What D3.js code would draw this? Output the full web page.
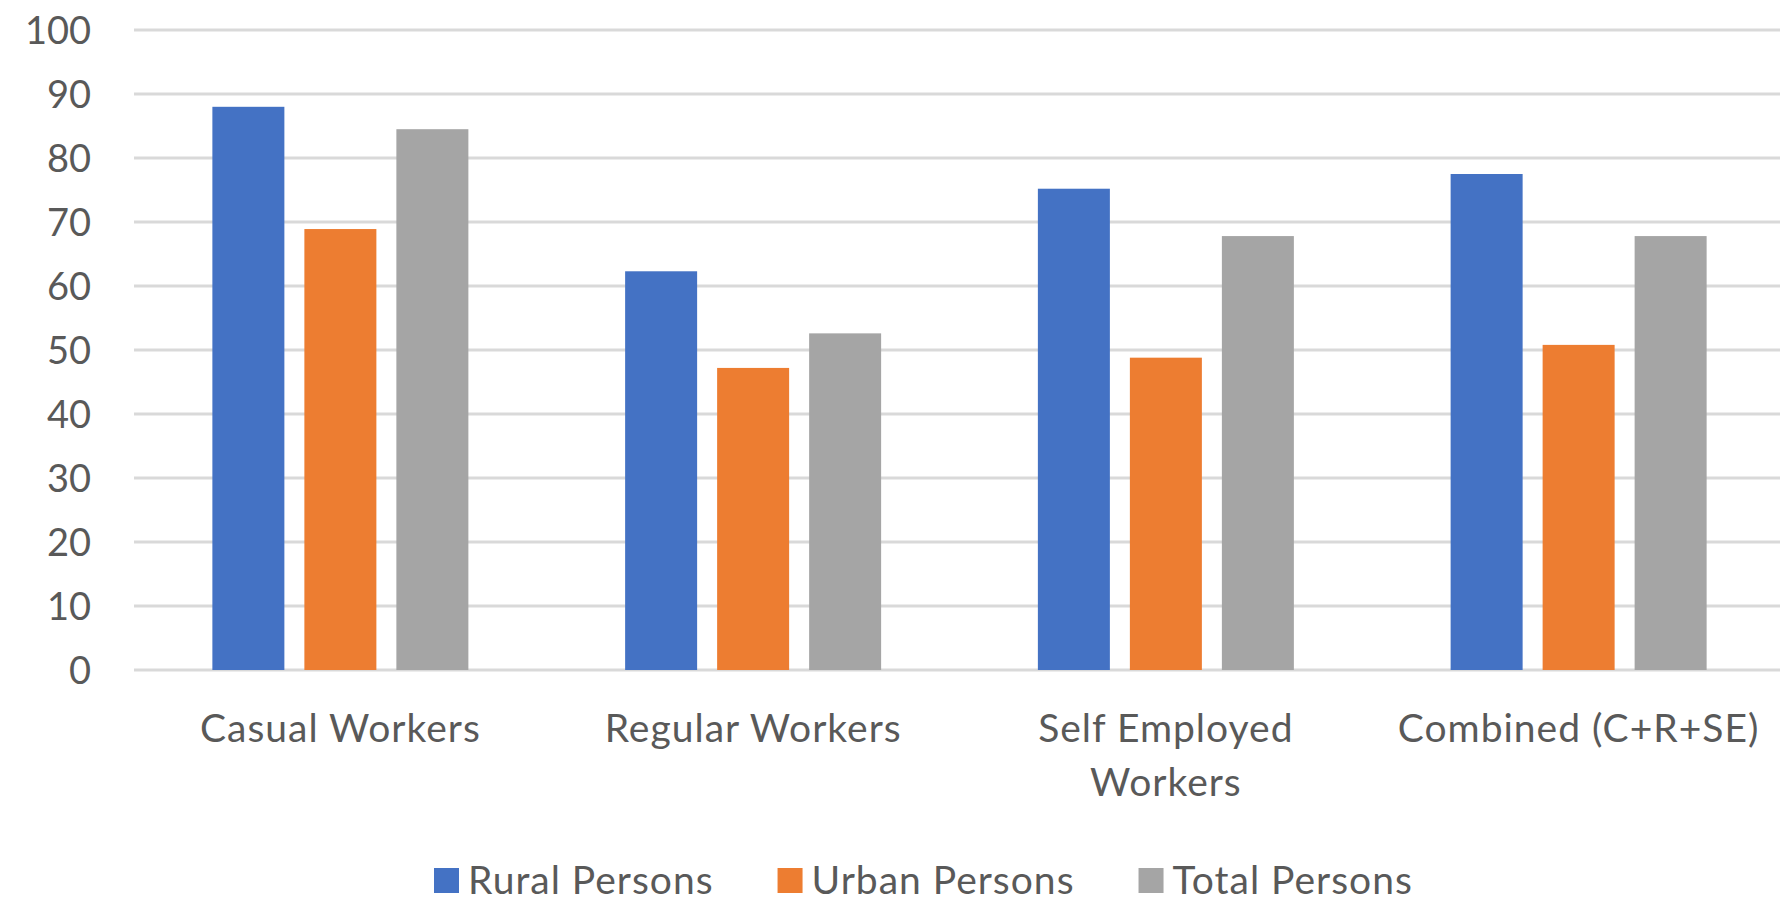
<!DOCTYPE html>
<html>
<head>
<meta charset="utf-8">
<script src="https://cdn.jsdelivr.net/npm/d3@7"></script>
<style>
  html, body { margin: 0; padding: 0; background: #fff; }
  svg { display: block; font-family: Lato, "Open Sans", sans-serif; }
</style>
</head>
<body>
<svg id="chart"></svg>
<script>
// categories along the x axis
const categories = ["Casual Workers", "Regular Workers", "Self Employed Workers", "Combined (C+R+SE)"];
// series names (legend order)
const seriesNames = ["Rural Persons", "Urban Persons", "Total Persons"];
// series values, one per category
const rural = [88.0, 62.3, 75.2, 77.5];
const urban = [68.9, 47.2, 48.8, 50.8];
const total = [84.5, 52.6, 67.8, 67.8];
// y tick labels
const yTicks = [0, 10, 20, 30, 40, 50, 60, 70, 80, 90, 100];
// series colours
const colors = ["#4472c4", "#ed7d31", "#a5a5a5"];

const width = 1780;
const height = 903;
const textColor = "#595959";

const svg = d3.select("#chart")
    .attr("width", width)
    .attr("height", height);

// rows for the grouped bars
const rows = categories.map((c, i) => ({
    category: c,
    values: [rural[i], urban[i], total[i]]
}));

// outer band scale, one band per category
const x0 = d3.scaleBand()
    .domain(categories)
    .range([134, 1785])
    .paddingInner(0)
    .paddingOuter(0);

// inner band scale for the three bars of a group
const groupWidth = 256;
const x1 = d3.scaleBand()
    .domain(d3.range(seriesNames.length))
    .range([-groupWidth / 2, groupWidth / 2])
    .paddingInner(20 / 92)
    .paddingOuter(0);

const y = d3.scaleLinear()
    .domain([0, 100])
    .range([670, 30]);

// gridlines
svg.append("g")
    .selectAll("line")
    .data(yTicks)
    .enter()
    .append("line")
    .attr("x1", 134)
    .attr("x2", width)
    .attr("y1", d => y(d))
    .attr("y2", d => y(d))
    .attr("stroke", "#d9d9d9")
    .attr("stroke-width", 3);

// y axis labels
svg.append("g")
    .selectAll("text")
    .data(yTicks)
    .enter()
    .append("text")
    .attr("x", 91)
    .attr("y", d => y(d) + 13.5)
    .attr("text-anchor", "end")
    .attr("fill", textColor)
    .style("font-size", "38px")
    .text(d => d);

// bars
const groups = svg.append("g")
    .selectAll("g")
    .data(rows)
    .enter()
    .append("g")
    .attr("transform", d => "translate(" + (x0(d.category) + x0.bandwidth() / 2) + ",0)");

groups.selectAll("rect")
    .data(d => d.values)
    .enter()
    .append("rect")
    .attr("x", (d, i) => x1(i))
    .attr("width", x1.bandwidth())
    .attr("y", d => y(d))
    .attr("height", d => y(0) - y(d))
    .attr("fill", (d, i) => colors[i]);

// x axis category labels, wrapped if too wide for the band
const maxLabelWidth = 380;
const lineHeight = 53.5;
const catLabels = svg.append("g")
    .selectAll("text")
    .data(categories)
    .enter()
    .append("text")
    .attr("text-anchor", "middle")
    .attr("fill", textColor)
    .style("font-size", "39px")
    .style("letter-spacing", "1px")
    .attr("transform", d => "translate(" + (x0(d) + x0.bandwidth() / 2) + ",742)");

catLabels.each(function(d) {
    let el = d3.select(this);
    let words = d.split(" ");
    let line = [];
    let lineNo = 0;
    let tspan = el.append("tspan").attr("x", 0).attr("y", 0);
    words.forEach(w => {
        line.push(w);
        tspan.text(line.join(" "));
        if (tspan.node().getComputedTextLength() > maxLabelWidth && line.length > 1) {
            line.pop();
            tspan.text(line.join(" "));
            line = [w];
            lineNo++;
            tspan = el.append("tspan").attr("x", 0).attr("y", lineNo * lineHeight).text(w);
        }
    });
});

// legend
const legend = svg.append("g").attr("transform", "translate(434,0)");
let lx = 0;
seriesNames.forEach((name, i) => {
    let item = legend.append("g").attr("transform", "translate(" + lx + ",0)");
    item.append("rect")
        .attr("x", 0)
        .attr("y", 868)
        .attr("width", 25)
        .attr("height", 25)
        .attr("fill", colors[i]);
    let t = item.append("text")
        .attr("x", 34)
        .attr("y", 894)
        .attr("fill", textColor)
        .style("font-size", "39px")
        .style("letter-spacing", "1px")
        .text(name);
    lx += 34 + t.node().getComputedTextLength() + 64;
});
</script>
</body>
</html>
